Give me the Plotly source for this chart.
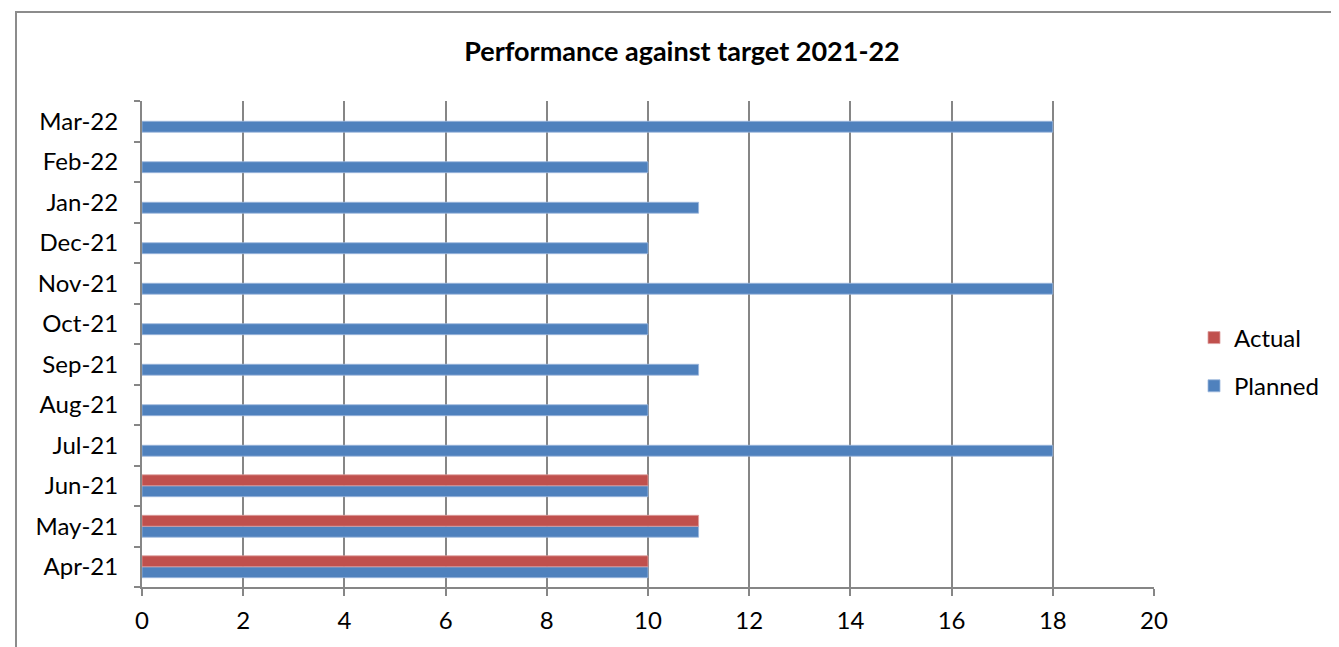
import plotly.graph_objects as go

months = ["Apr-21", "May-21", "Jun-21", "Jul-21", "Aug-21", "Sep-21",
          "Oct-21", "Nov-21", "Dec-21", "Jan-22", "Feb-22", "Mar-22"]
planned = [10, 11, 10, 18, 10, 11, 10, 18, 10, 11, 10, 18]
actual = [10, 11, 10, None, None, None, None, None, None, None, None, None]
x_ticks = [0, 2, 4, 6, 8, 10, 12, 14, 16, 18, 20]

FONT = "Lato, 'Open Sans', sans-serif"
# page body has an 8px margin, so the figure is 8px smaller than the window
W, H = 1331, 639
L, R, T, B = 134, 185, 93, 60

fig = go.Figure()
fig.add_trace(go.Bar(y=months, x=planned, orientation="h", name="Planned",
                     marker=dict(color="#4F81BD", line=dict(color="#9DB7DD", width=0.8)),
                     legendgroup="p", legendrank=2))
fig.add_trace(go.Bar(y=months, x=actual, orientation="h", name="Actual",
                     marker=dict(color="#C0504D", line=dict(color="#DDA09F", width=0.8)),
                     legendgroup="a", legendrank=1))

pw = W - L - R
ph = H - T - B
bx0 = (8 - L) / pw
by1 = 1 + (T - 4) / ph

fig.update_layout(
    width=W, height=H,
    margin=dict(l=L, r=R, t=T, b=B, autoexpand=False),
    paper_bgcolor="white", plot_bgcolor="white",
    barmode="group", bargap=0.46, bargroupgap=0,
    font=dict(family=FONT, size=24, color="black"),
    title=dict(text="<b>Performance against target 2021-22</b>", x=(674 - L) / pw,
               xref="paper", xanchor="center", y=1 - 44 / H, yanchor="middle",
               font=dict(family=FONT, size=27, color="black")),
    xaxis=dict(range=[0, 20], tickvals=x_ticks, showgrid=True, gridcolor="#868686",
               gridwidth=2, showline=True, linecolor="#868686", linewidth=2,
               ticks="outside", ticklen=7, tickcolor="#868686", tickwidth=2,
               ticklabelstandoff=4,
               zeroline=False, tickfont=dict(size=24, family=FONT), fixedrange=True),
    yaxis=dict(categoryorder="array", categoryarray=months, showgrid=False,
               showline=True, linecolor="#868686", linewidth=2,
               ticks="outside", ticklen=6, tickcolor="#868686", tickwidth=2,
               ticklabelstandoff=17,
               tickson="boundaries", tickfont=dict(size=24, family=FONT),
               range=[-0.5, 11.5], fixedrange=True),
    legend=dict(x=(1186 - L) / pw, y=1 - (354 - T) / ph, xanchor="left", yanchor="middle",
                traceorder="grouped", tracegroupgap=14,
                font=dict(size=24, family=FONT), itemwidth=30),
    showlegend=True,
    shapes=[dict(type="rect", xref="paper", yref="paper", x0=bx0, y0=-1,
                 x1=2, y1=by1, line=dict(color="#8C8C8C", width=2), layer="below")],
)

fig.write_html("out.html")
